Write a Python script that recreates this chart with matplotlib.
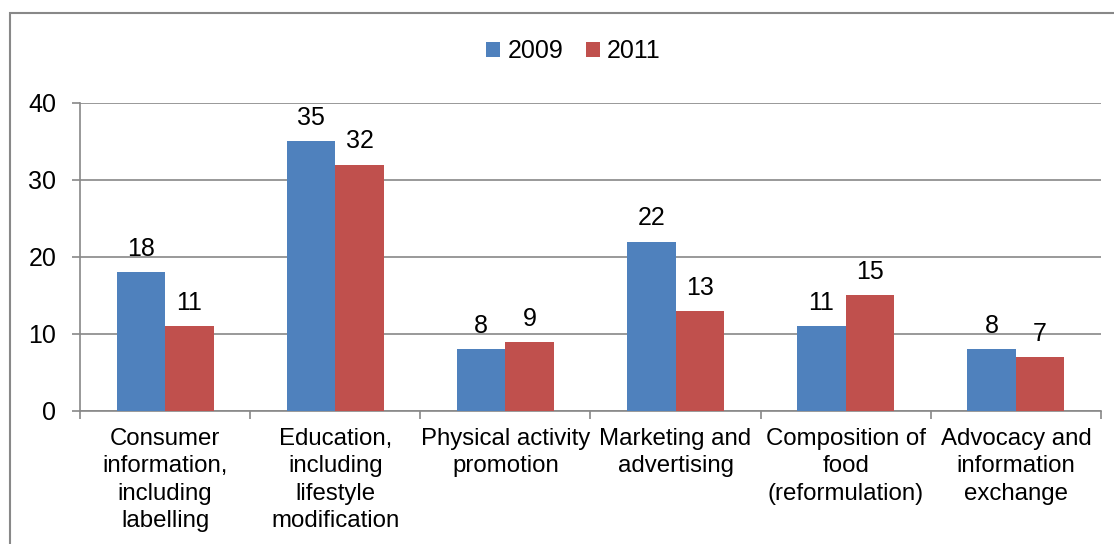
import matplotlib.pyplot as plt
import numpy as np
from matplotlib.patches import Rectangle

plt.rcParams['font.family'] = ['Liberation Sans', 'DejaVu Sans']

# data
categories = ['Consumer\ninformation,\nincluding\nlabelling',
              'Education,\nincluding\nlifestyle\nmodification',
              'Physical activity\npromotion',
              'Marketing and\nadvertising',
              'Composition of\nfood\n(reformulation)',
              'Advocacy and\ninformation\nexchange']
v2009 = [18, 35, 8, 22, 11, 8]
v2011 = [11, 32, 9, 13, 15, 7]
years = ['2009', '2011']

blue = '#4F81BD'
red = '#C0504D'
grey = '#888888'
fs = 18

fig = plt.figure(figsize=(11.14, 5.44), dpi=100)
ax = fig.add_axes([0.0718, 0.2445, 0.9165, 0.5662])

x = np.arange(len(categories))
w = 0.285
b1 = ax.bar(x - w / 2, v2009, w, color=blue, label=years[0], zorder=3)
b2 = ax.bar(x + w / 2, v2011, w, color=red, label=years[1], zorder=3)

# value labels
for bars, vals in ((b1, v2009), (b2, v2011)):
    for b, v in zip(bars, vals):
        ax.annotate(str(v), (b.get_x() + b.get_width() / 2, v),
                    xytext=(0, 8), textcoords='offset points',
                    ha='center', va='bottom', fontsize=fs)

ax.set_ylim(0, 40)
ax.set_yticks([0, 10, 20, 30, 40])
ax.set_xlim(-0.5, len(categories) - 0.5)
ax.yaxis.grid(True, color=grey, linewidth=1.2, zorder=0)

ax.set_xticks(x)
ax.set_xticklabels(categories, fontsize=17.3, linespacing=1.33)
ax.tick_params(axis='x', length=0, pad=12)
ax.set_xticks(np.arange(len(categories) + 1) - 0.5, minor=True)
ax.tick_params(axis='x', which='minor', length=6, color=grey, width=1.2)
ax.tick_params(axis='y', labelsize=fs, length=6, color=grey, width=1.2, pad=11)

for s in ['top', 'right']:
    ax.spines[s].set_visible(False)
for s in ['left', 'bottom']:
    ax.spines[s].set_color(grey)
    ax.spines[s].set_linewidth(1.2)

ax.legend(loc='center', bbox_to_anchor=(0.515, 0.906), bbox_transform=fig.transFigure,
          ncol=2, frameon=False, fontsize=fs, handlelength=0.55, handleheight=0.55,
          handletextpad=0.3, columnspacing=0.9)

# outer chart border (left and top visible)
fig.patches.append(Rectangle((10 / 1114, -0.05), 1.2, 1 - 13 / 544 + 0.05,
                             transform=fig.transFigure, fill=False,
                             edgecolor=grey, linewidth=1.5))

fig.savefig('out.png', dpi=100)
